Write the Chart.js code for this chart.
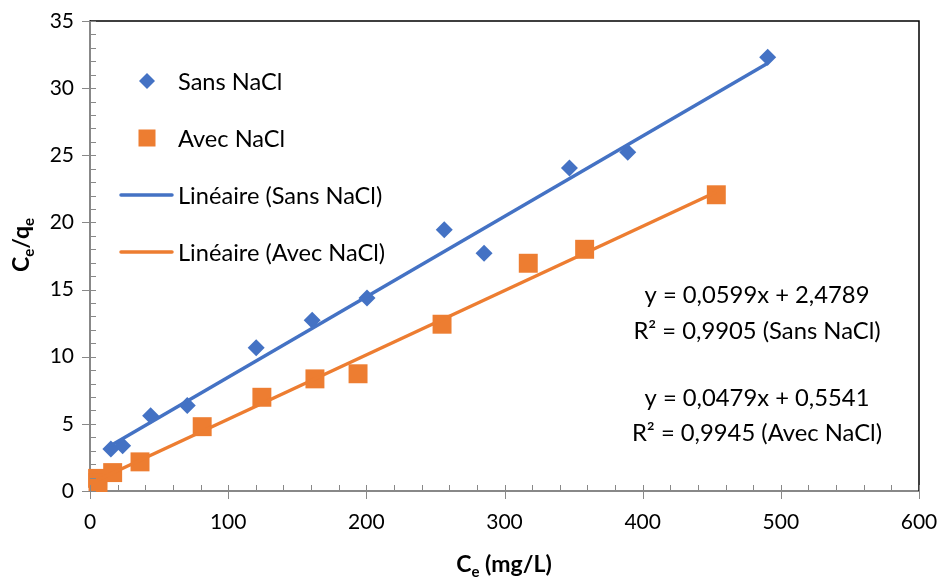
<!DOCTYPE html>
<html><head><meta charset="utf-8">
<script src="https://cdn.jsdelivr.net/npm/chart.js@4.4.0/dist/chart.umd.min.js"></script>
<style>html,body{margin:0;padding:0;background:#fff}#wrap{width:941px;height:579px;position:relative}</style>
</head><body><div id="wrap"><canvas id="c"></canvas></div>
<script>
// ---- data ----
const sansX = [15.1, 23.6, 43.9, 70.4, 120.3, 160.8, 200.5, 256.4, 285.2, 347.0, 389.2, 490.5];
const sansY = [3.12, 3.37, 5.61, 6.36, 10.67, 12.72, 14.38, 19.45, 17.70, 24.06, 25.23, 32.30];
const avecX = [5.5, 5.8, 16.4, 36.2, 81.2, 124.4, 162.8, 194.0, 254.8, 317.2, 358.0, 453.3];
const avecY = [0.94, 0.63, 1.37, 2.17, 4.79, 6.98, 8.35, 8.73, 12.42, 16.96, 18.00, 22.06];
const sansFit = {slope: 0.0599, intercept: 2.4789};
const avecFit = {slope: 0.0479, intercept: 0.5541};
const xTickValues = [0, 100, 200, 300, 400, 500, 600];
const yTickValues = [0, 5, 10, 15, 20, 25, 30, 35];
const seriesNames = ["Sans NaCl", "Avec NaCl", "Linéaire (Sans NaCl)", "Linéaire (Avec NaCl)"];
const eqLines = ["y = 0,0599x + 2,4789", "R² = 0,9905 (Sans NaCl)", "y = 0,0479x + 0,5541", "R² = 0,9945 (Avec NaCl)"];
const xTitle = ["C", "e", " (mg/L)"];
const yTitle = ["C", "e", "/q", "e"];

const BLUE = '#4472C4', ORANGE = '#ED7D31';
const FONT = 'Lato';

const pts = (xs, ys) => xs.map((x, i) => ({x, y: ys[i]}));
const fitLine = (xs, f) => {
  const lo = Math.min(...xs), hi = Math.max(...xs);
  return [{x: lo, y: f.slope * lo + f.intercept}, {x: hi, y: f.slope * hi + f.intercept}];
};

const decorations = {
  id: 'decorations',
  afterDatasetsDraw(chart) {
    const ctx = chart.ctx, xs = chart.scales.x, ys = chart.scales.y;
    ctx.save();
    // top & right frame
    ctx.strokeStyle = '#000'; ctx.lineWidth = 1.5;
    ctx.beginPath();
    ctx.moveTo(xs.getPixelForValue(0), ys.getPixelForValue(35));
    ctx.lineTo(xs.getPixelForValue(600), ys.getPixelForValue(35));
    ctx.lineTo(xs.getPixelForValue(600), ys.getPixelForValue(0));
    ctx.stroke();
    // ticks
    ctx.strokeStyle = '#888'; ctx.lineWidth = 1;
    const ax = xs.getPixelForValue(0), ay = ys.getPixelForValue(0);
    ctx.beginPath();
    for (let v = 0; v <= 600; v += 20) {
      const p = Math.round(xs.getPixelForValue(v)) + 0.5;
      if (v % 100 === 0) { ctx.moveTo(p, ay - 6); ctx.lineTo(p, ay + 8); }
      else { ctx.moveTo(p, ay - 6); ctx.lineTo(p, ay); }
    }
    for (let v = 0; v <= 35; v += 1) {
      const p = Math.round(ys.getPixelForValue(v)) + 0.5;
      if (v % 5 === 0) { ctx.moveTo(ax - 8, p); ctx.lineTo(ax + 6, p); }
      else { ctx.moveTo(ax, p); ctx.lineTo(ax + 6, p); }
    }
    ctx.stroke();
    ctx.restore();
  },
  afterDraw(chart) {
    const ctx = chart.ctx;
    ctx.save();
    // legend
    ctx.font = '23.6px ' + FONT;
    ctx.textBaseline = 'middle';
    ctx.textAlign = 'left';
    const rows = [81, 138, 195, 252];
    ctx.fillStyle = BLUE;
    ctx.beginPath();
    ctx.moveTo(147 - 8, rows[0]); ctx.lineTo(147, rows[0] - 8);
    ctx.lineTo(147 + 8, rows[0]); ctx.lineTo(147, rows[0] + 8); ctx.closePath(); ctx.fill();
    ctx.fillStyle = ORANGE;
    ctx.fillRect(147 - 8.5, rows[1] - 8.5, 17, 17);
    ctx.lineWidth = 3.5; ctx.lineCap = 'round';
    ctx.strokeStyle = BLUE; ctx.beginPath(); ctx.moveTo(121, rows[2]); ctx.lineTo(172, rows[2]); ctx.stroke();
    ctx.strokeStyle = ORANGE; ctx.beginPath(); ctx.moveTo(121, rows[3]); ctx.lineTo(172, rows[3]); ctx.stroke();
    ctx.fillStyle = '#000';
    seriesNames.forEach((n, i) => ctx.fillText(n, 178, rows[i] + 1));
    // equations
    ctx.font = '23.8px ' + FONT;
    ctx.textAlign = 'center';
    const eqY = [295, 331.5, 398, 433];
    eqLines.forEach((t, i) => ctx.fillText(t, 757, eqY[i]));
    // axis titles
    ctx.textBaseline = 'alphabetic';
    ctx.textAlign = 'left';
    const big = 'bold 23px ' + FONT, small = 'bold 15px ' + FONT;
    const drawParts = (parts, subs) => {
      let w = 0;
      parts.forEach((p, i) => { ctx.font = subs[i] ? small : big; w += ctx.measureText(p).width; });
      let x = -w / 2;
      parts.forEach((p, i) => {
        ctx.font = subs[i] ? small : big;
        ctx.fillText(p, x, subs[i] ? 5 : 0);
        x += ctx.measureText(p).width;
      });
    };
    ctx.save();
    ctx.translate(504, 572);
    drawParts(xTitle, [false, true, false]);
    ctx.restore();
    ctx.save();
    ctx.translate(29, 245);
    ctx.rotate(-Math.PI / 2);
    drawParts(yTitle, [false, true, false, true]);
    ctx.restore();
    ctx.restore();
  }
};

new Chart(document.getElementById('c'), {
  type: 'scatter',
  data: {
    datasets: [
      {label: seriesNames[2], type: 'line', data: fitLine(sansX, sansFit), borderColor: BLUE, borderWidth: 3.5, pointRadius: 0, fill: false, order: 0},
      {label: seriesNames[3], type: 'line', data: fitLine(avecX, avecFit), borderColor: ORANGE, borderWidth: 3.5, pointRadius: 0, fill: false, order: 0},
      {label: seriesNames[0], data: pts(sansX, sansY), pointStyle: 'rectRot', pointRadius: 8.5, pointHoverRadius: 8.5, backgroundColor: BLUE, borderWidth: 0, order: 1, clip: false},
      {label: seriesNames[1], data: pts(avecX, avecY), pointStyle: 'rect', pointRadius: 13.4, pointHoverRadius: 13.4, backgroundColor: ORANGE, borderWidth: 0, order: 1, clip: false}
    ]
  },
  options: {
    responsive: true,
    maintainAspectRatio: false,
    animation: false,
    events: [],
    layout: {padding: {top: 21, right: 22, left: 0, bottom: 0}},
    plugins: {legend: {display: false}, tooltip: {enabled: false}},
    scales: {
      x: {
        type: 'linear', min: 0, max: 600,
        afterBuildTicks: s => { s.ticks = xTickValues.map(v => ({value: v})); },
        afterFit: s => { s.height = 88; s.paddingLeft = 0; s.paddingRight = 0; },
        ticks: {color: '#000', font: {family: FONT, size: 21}, padding: 19, maxRotation: 0},
        grid: {display: true, drawOnChartArea: false, drawTicks: false, color: 'rgba(0,0,0,0)'},
        border: {display: true, color: '#888', width: 2}
      },
      y: {
        type: 'linear', min: 0, max: 35,
        afterBuildTicks: s => { s.ticks = yTickValues.map(v => ({value: v})); },
        afterFit: s => { s.width = 90; s.paddingTop = 0; s.paddingBottom = 0; },
        ticks: {color: '#000', font: {family: FONT, size: 21}, padding: 16},
        grid: {display: true, drawOnChartArea: false, drawTicks: false, color: 'rgba(0,0,0,0)'},
        border: {display: true, color: '#888', width: 2}
      }
    }
  },
  plugins: [decorations]
});
</script></body></html>
